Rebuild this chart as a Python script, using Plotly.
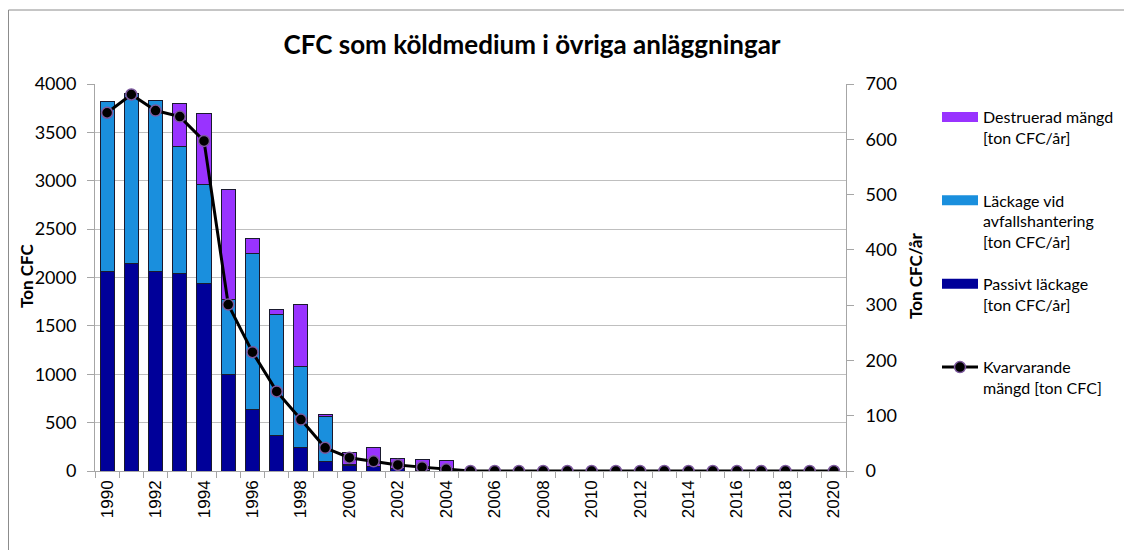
import plotly.graph_objects as go

years = list(range(1990, 2021))
passivt = [2057, 2149, 2067, 2043, 1933, 994, 632, 370, 238, 100, 60, 45, 25, 10, 5] + [0] * 16
lackage = [1763, 1757, 1760, 1315, 1028, 783, 1618, 1245, 839, 460, 10, 5, 0, 0, 0] + [0] * 16
destruerad = [0, 0, 0, 445, 731, 1129, 152, 56, 641, 24, 120, 188, 103, 108, 99] + [0] * 16
kvarvarande = [648, 681, 652, 641, 597, 301, 215, 144, 93, 42, 24, 17.6, 11, 7, 3] + [0] * 16

even_years = [y for y in years if y % 2 == 0]

C_PURPLE = "#9933FF"
C_LIGHT = "#1A8FDD"
C_NAVY = "#000099"
OUTLINE = dict(color="#1a1a2e", width=1)
FONT = "Lato, Carlito, 'Open Sans', sans-serif"
PAD = "<br>\u00a0"
GRAY = "#a6a6a6"
CLEAR = "rgba(0,0,0,0)"

series = [
    ("Passivt läckage<br>[ton CFC/år]" + PAD, passivt, C_NAVY, 3, "c"),
    ("Läckage vid<br>avfallshantering<br>[ton CFC/år]", lackage, C_LIGHT, 2, "b"),
    ("Destruerad mängd<br>[ton CFC/år]" + PAD, destruerad, C_PURPLE, 1, "a"),
]

fig = go.Figure()
for name, vals, col, rank, grp in series:
    fig.add_trace(go.Bar(x=years, y=vals, name=name, showlegend=False,
                         marker=dict(color=col, line=OUTLINE), legendgroup=grp))
    # legend key drawn as a wide swatch, like the original
    fig.add_trace(go.Scatter(x=[None], y=[None], name=name, mode="lines",
                             line=dict(color=col, width=10), legendrank=rank,
                             legendgroup=grp, hoverinfo="skip"))

fig.add_trace(go.Scatter(x=years, y=kvarvarande, name="Kvarvarande<br>mängd [ton CFC]" + PAD,
                         mode="lines+markers", yaxis="y2",
                         line=dict(color="black", width=3),
                         marker=dict(color="black", size=11, line=dict(color="#7d5a9e", width=1.5)),
                         legendrank=4, legendgroup="d"))
# carriers for the axis lines / short tick marks at the plot edges
fig.add_trace(go.Scatter(x=[None], y=[None], yaxis="y3", showlegend=False, hoverinfo="skip"))
fig.add_trace(go.Scatter(x=[None], y=[None], yaxis="y4", showlegend=False, hoverinfo="skip"))
fig.add_trace(go.Scatter(x=[None], y=[None], xaxis="x2", showlegend=False, hoverinfo="skip"))

# page is shown with an 8px body offset; coordinates below are screen pixels
OFF = 8
W, H = 1132, 550
PL, PR, PT, PB = 95 - OFF, 846 - OFF, 84 - OFF, 471 - OFF   # plot area in figure px
DX, DY = 8, 5                                               # extra label distance
PW = PR - PL + 2 * DX
PH = PB - PT + DY

def px_x(p):
    return (p - OFF - (PL - DX)) / PW

def px_y(p):
    return (PB + DY - (p - OFF)) / PH

XDOM = [DX / PW, 1 - DX / PW]
YDOM = [DY / PH, 1]
XR = [1989.5, 2020.5]

fig.update_layout(
    width=W, height=H,
    margin=dict(l=PL - DX, r=W - PR - DX, t=PT, b=H - PB - DY, autoexpand=False),
    paper_bgcolor="white", plot_bgcolor="white",
    barmode="stack", bargap=0.42,
    font=dict(family=FONT, color="black", size=17),
    title=dict(text="<b>CFC som köldmedium i övriga anläggningar</b>",
               x=(532 - OFF) / W, xanchor="center", y=1 - (45 - OFF) / H, yanchor="middle",
               font=dict(family=FONT, size=26, color="black")),
    xaxis=dict(domain=XDOM, anchor="free", position=0, range=XR,
               tickmode="array", tickvals=even_years,
               ticktext=[str(y) for y in even_years], tickangle=-90,
               ticks="", showgrid=False, showline=False, zeroline=False, automargin=False,
               tickfont=dict(family="Liberation Sans, Arial, sans-serif", size=17)),
    xaxis2=dict(overlaying="x", anchor="y", side="bottom", range=XR,
                showticklabels=False, ticks="", showgrid=False, showline=True, linecolor=GRAY,
                minor=dict(tick0=1989.5, dtick=1, ticks="outside", ticklen=6,
                           tickcolor=GRAY, showgrid=False),
                zeroline=False, automargin=False),
    yaxis=dict(domain=YDOM, anchor="free", position=0, range=[0, 4000], dtick=500,
               showgrid=False, showline=False, ticks="outside", ticklen=7,
               tickcolor=CLEAR, zeroline=False, automargin=False,
               tickfont=dict(family=FONT, size=18)),
    yaxis3=dict(range=[0, 4000], dtick=500, overlaying="y", anchor="x", side="left",
                showgrid=True, gridcolor="#bfbfbf", gridwidth=1,
                showline=True, linecolor=GRAY, ticks="outside", ticklen=7, tickcolor=GRAY,
                showticklabels=False, zeroline=False, automargin=False),
    yaxis2=dict(range=[0, 700], dtick=100, overlaying="y", anchor="free", position=1,
                side="right", showgrid=False, showline=False, ticks="outside", ticklen=7,
                tickcolor=CLEAR, zeroline=False, automargin=False,
                tickfont=dict(family=FONT, size=18)),
    yaxis4=dict(range=[0, 700], dtick=100, overlaying="y", anchor="x", side="right",
                showgrid=False, showline=True, linecolor=GRAY, ticks="outside", ticklen=7,
                tickcolor=GRAY, showticklabels=False, zeroline=False, automargin=False),
    annotations=[
        dict(text="<b>Ton CFC</b>", xref="paper", yref="paper", x=px_x(26), y=px_y(276),
             xanchor="center", yanchor="middle", textangle=-90, showarrow=False,
             font=dict(family=FONT, size=17)),
        dict(text="<b>Ton CFC/år</b>", xref="paper", yref="paper", x=px_x(915), y=px_y(276),
             xanchor="center", yanchor="middle", textangle=-90, showarrow=False,
             font=dict(family=FONT, size=17)),
    ],
    legend=dict(x=px_x(937), xanchor="left", y=px_y(100), yanchor="top",
                traceorder="grouped", tracegroupgap=18, valign="top", itemwidth=36,
                font=dict(family=FONT, size=16), bgcolor=CLEAR),
    shapes=[dict(type="rect", xref="paper", yref="paper",
                 x0=px_x(8.5), x1=px_x(1150), y0=px_y(570), y1=px_y(10),
                 line=dict(color="#8c8c8c", width=1), fillcolor=CLEAR, layer="below")],
)

fig.write_html("out.html")
